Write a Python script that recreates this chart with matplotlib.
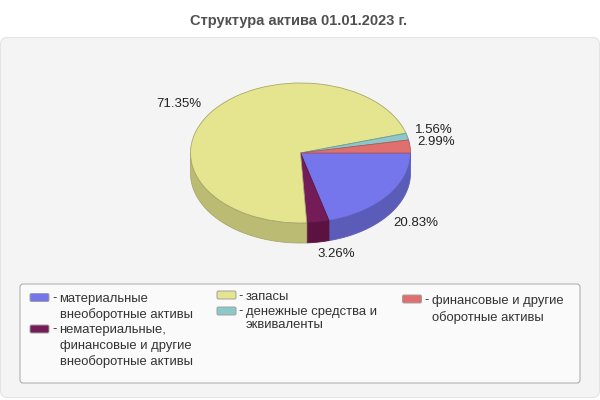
import numpy as np
import matplotlib
matplotlib.use('Agg')
import matplotlib.pyplot as plt
from matplotlib.patches import FancyBboxPatch

plt.rcParams['font.family'] = ['Liberation Sans', 'DejaVu Sans']

title = 'Структура актива 01.01.2023 г.'
names = ['материальные\nвнеоборотные активы',
         'нематериальные,\nфинансовые и другие\nвнеоборотные активы',
         'запасы',
         'денежные средства и\nэквиваленты',
         'финансовые и другие\nоборотные активы']
values = [20.83, 3.26, 71.35, 1.56, 2.99]
top_colors = ['#7676EC', '#741C58', '#E5E590', '#8CC8C8', '#E07070']
side_colors = ['#5A5CB8', '#5C1240', '#BBBB73', '#6C9C9C', '#B05858']
edge_colors = ['#5C5CB8', '#5A1444', '#A8A86C', '#6C9C9C', '#B05858']

# where the percent labels sit, in pixels
label_pos = [(416, 223), (336, 254), (179, 104), (434, 130), (436, 142)]
# legend: swatch x, swatch y, text x, first line y, line step
legend_pos = [(30, 297.5, 59.5, 299, 16), (30, 329, 59.5, 330, 16),
              (217, 295, 246, 297, 16), (217, 311, 246, 312, 12.5),
              (402.5, 299, 432, 301, 16.5)]

fig = plt.figure(figsize=(6, 4), dpi=100, facecolor='white')

# background layer in pixel coordinates
bg = fig.add_axes([0, 0, 1, 1])
bg.set_xlim(0, 600)
bg.set_ylim(400, 0)
bg.axis('off')
bg.add_patch(FancyBboxPatch((0.5, 37.5), 599, 360, boxstyle='round,pad=0,rounding_size=7',
                            fc='#F4F4F4', ec='#E4E4E4', lw=0.8))
bg.add_patch(FancyBboxPatch((20, 284), 560, 99, boxstyle='round,pad=0,rounding_size=3',
                            fc='#FAFAFA', ec='#A8A8A8', lw=0.7))
bg.text(299, 21, title, ha='center', va='center', fontsize=10.55, fontweight='bold', color='#505050')

# pie axes, radius 1 is 110 px across and 70 px down
rx, ry, depth, cx, cy = 110, 70, 20, 300.5, 153
ax = fig.add_axes([(cx - 1.2 * rx) / 600, 1 - (cy + 1.6 * ry) / 400, 2.4 * rx / 600, 2.8 * ry / 400])
ax.patch.set_alpha(0)

# side wall first, only the front half of the pie shows it
ends = -np.cumsum(values) * 3.6
starts = np.r_[0, ends[:-1]]
d = depth / ry
for a, b, sc, ec in zip(starts, ends, side_colors, edge_colors):
    b = max(b, -180)
    if a <= -180:
        continue
    t = np.radians(np.linspace(a, b, 60))
    xs = np.cos(t)
    ys = np.sin(t)
    ax.fill(np.r_[xs, xs[::-1]], np.r_[ys, ys[::-1] - d], fc=sc, ec=ec, lw=0.6)

wedges, _ = ax.pie(values, colors=top_colors, startangle=0, counterclock=False, radius=1,
                   wedgeprops={'lw': 0.6})
for w, ec in zip(wedges, edge_colors):
    w.set_edgecolor(ec)
ax.set_aspect('auto')
ax.set_xlim(-1.2, 1.2)
ax.set_ylim(-1.6, 1.2)
ax.axis('off')

for v, (x, y) in zip(values, label_pos):
    bg.text(x, y, '%.2f%%' % v, ha='center', va='center', fontsize=9.5, color='#222222')

# legend is laid out by hand because the columns are uneven
for name, color, (sx, sy, tx, ty, step) in zip(names, top_colors, legend_pos):
    bg.add_patch(FancyBboxPatch((sx, sy - 4), 19, 8, boxstyle='round,pad=0,rounding_size=1.5',
                                fc=color, ec='#A0A0A0', lw=0.7))
    bg.text(tx - 7.5, ty - 0.5, '-', ha='left', va='center', fontsize=9.4, color='#333333')
    for i, line in enumerate(name.split('\n')):
        bg.text(tx, ty + i * step, line, ha='left', va='center', fontsize=9.4, color='#333333')

fig.savefig('out.png', dpi=100)
